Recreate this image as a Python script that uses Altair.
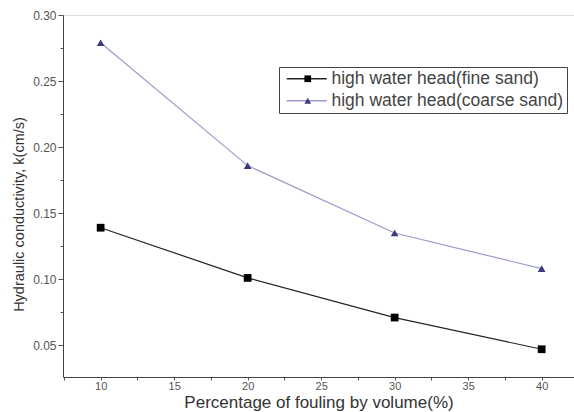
import altair as alt
import pandas as pd

x_vals = [10, 20, 30, 40]
fine_sand = [0.139, 0.101, 0.071, 0.047]
coarse_sand = [0.279, 0.186, 0.135, 0.108]
series_names = ["high water head(fine sand)", "high water head(coarse sand)"]
marker_keys = ["fine", "coarse"]
x_ticks = [7.5, 10, 12.5, 15, 17.5, 20, 22.5, 25, 27.5, 30, 32.5, 35, 37.5, 40, 42.5]
y_ticks = [0.05, 0.075, 0.10, 0.125, 0.15, 0.175, 0.20, 0.225, 0.25, 0.275, 0.30]

rows = []
for xv, v in zip(x_vals, fine_sand):
    rows.append({"x": xv, "y": v, "series": series_names[0], "marker": marker_keys[0]})
for xv, v in zip(x_vals, coarse_sand):
    rows.append({"x": xv, "y": v, "series": series_names[1], "marker": marker_keys[1]})
df = pd.DataFrame(rows)

W, H = 511, 362
xscale = alt.Scale(domain=[7.44, 42.2], nice=False, zero=False)
yscale = alt.Scale(domain=[0.026, 0.30], nice=False, zero=False)
font = "Liberation Sans"

x_major = "abs(round(datum.value / 5) * 5 - datum.value) < 0.001"
y_major = "abs(round(datum.value / 0.05) * 0.05 - datum.value) < 0.000001"

xaxis = alt.Axis(values=x_ticks, tickCount=100, title="Percentage of fouling by volume(%)",
                 labelExpr=f"({x_major}) ? format(datum.value, 'd') : ''",
                 grid=False, domainColor="#444", tickColor="#555", tickSize=3,
                 labelFont=font, labelFontSize=11, labelColor="#555", labelPadding=0,
                 labelOverlap=False,
                 titleFont=font, titleFontSize=17, titleFontWeight="normal", titleColor="#333",
                 titlePadding=3, orient="bottom")
yaxis = alt.Axis(values=y_ticks, tickCount=100, title="Hydraulic conductivity, k(cm/s)",
                 labelExpr=f"({y_major}) ? format(datum.value, '.2f') : ''",
                 grid=False, domainColor="#444", tickColor="#555",
                 tickSize={"condition": {"test": y_major, "value": 5}, "value": 3},
                 labelFont=font, labelFontSize=12, labelColor="#555", labelPadding=2,
                 labelOverlap=False,
                 titleFont=font, titleFontSize=14.5, titleFontWeight="normal", titleColor="#333",
                 titleX=-37, titleY=199, titleAngle=270, titleAlign="center",
                 orient="left")

legend_common = dict(title=None, orient="none", legendX=216, legendY=52,
                     labelFont=font, labelFontSize=17.5, labelLimit=400, padding=3, rowPadding=3)

color = alt.Color("series:N", scale=alt.Scale(domain=series_names, range=["#222222", "#9a9ac8"]),
                  legend=alt.Legend(symbolType="M-5,0H5", symbolSize=64, symbolStrokeWidth=1.3,
                                    symbolOffset=16, labelOffset=16,
                                    labelColor="#444", strokeColor="#444", **legend_common))

lines = alt.Chart(df).mark_line(strokeWidth=1.2).encode(
    x=alt.X("x:Q", scale=xscale, axis=xaxis),
    y=alt.Y("y:Q", scale=yscale, axis=yaxis),
    color=color,
)
marker_legend = alt.Legend(symbolSize=45, symbolStrokeWidth=0, symbolOffset=17,
                           labelOpacity=0, labelExpr="' '", **legend_common)
points = alt.Chart(df).mark_point(filled=True, size=60, opacity=1).encode(
    x=alt.X("x:Q", scale=xscale),
    y=alt.Y("y:Q", scale=yscale),
    shape=alt.Shape("marker:N", scale=alt.Scale(domain=marker_keys, range=["square", "triangle-up"]),
                    legend=marker_legend),
    fill=alt.Fill("marker:N", scale=alt.Scale(domain=marker_keys, range=["#000000", "#3a3a80"]),
                  legend=marker_legend),
)

chart = alt.layer(lines, points).properties(
    width=W, height=H,
    autosize=alt.AutoSizeParams(type="none"),
    padding={"left": 63, "top": 15, "right": 0, "bottom": 35},
).configure_view(stroke=None).configure(background="white")

chart.save("out.html", embed_options={"renderer": "svg", "actions": False})
